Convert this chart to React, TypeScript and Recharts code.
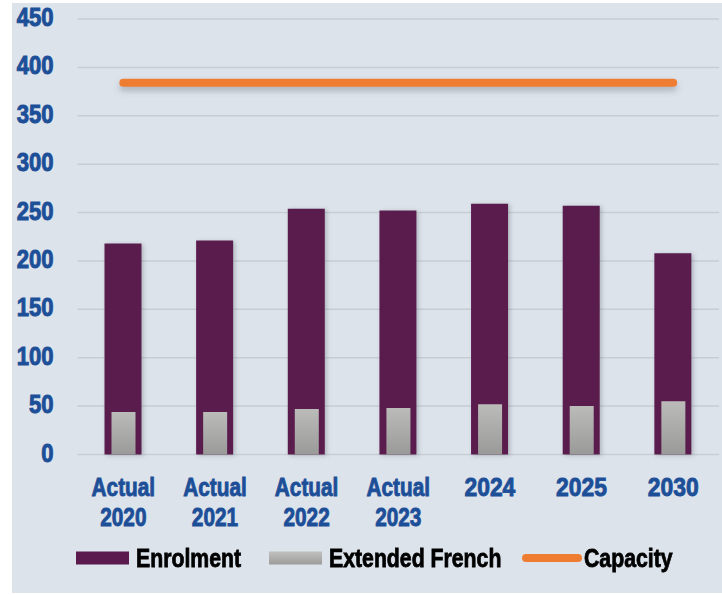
import React from "react";
import { ComposedChart, Bar, Line, XAxis, YAxis, CartesianGrid } from "recharts";

const categories = ["Actual\n2020", "Actual\n2021", "Actual\n2022", "Actual\n2023", "2024", "2025", "2030"];
const enrolment = [218, 221, 254, 252, 259, 257, 208];
const extendedFrench = [44, 44, 47, 48, 52, 50, 55];
const capacity = [384, 384, 384, 384, 384, 384, 384];
const yTicks = [0, 50, 100, 150, 200, 250, 300, 350, 400, 450];

const data = categories.map((label, i) => ({
  label,
  enrolment: enrolment[i],
  french: extendedFrench[i],
  capacity: capacity[i],
}));

const FONT = "'Liberation Sans', Arial, sans-serif";
const BLUE = "#1d4f98";
const PURPLE = "#5a1a4e";
const ORANGE = "#ee7d31";

const XTick = (props: any) => {
  const { x, y, payload } = props;
  const lines = String(payload.value).split("\n");
  const sx = lines.length > 1 ? 0.8 : 0.88;
  return (
    <g transform={`translate(${x},${y}) scale(${sx},1)`}>
      {lines.map((l, i) => (
        <text key={i} x={0} y={42 + i * 30} textAnchor="middle" fill={BLUE} stroke={BLUE} strokeWidth={0.9} fontFamily={FONT} fontWeight="bold" fontSize={26}>
          {l}
        </text>
      ))}
    </g>
  );
};

const YTick = (props: any) => {
  const { x, y, payload } = props;
  return (
    <g transform={`translate(${x},${y + 7}) scale(0.92,1.05)`}>
      <text x={0} y={0} textAnchor="end" fill={BLUE} stroke={BLUE} strokeWidth={0.9} fontFamily={FONT} fontWeight="bold" fontSize={24}>
        {payload.value}
      </text>
    </g>
  );
};

const legendItems = [
  { name: "Enrolment", type: "rect", left: 76 },
  { name: "Extended French", type: "grad", left: 269 },
  { name: "Capacity", type: "line", left: 522 },
];

export default function App() {
  return (
    <div style={{ position: "absolute", left: 0, top: 0, width: 722, height: 595, background: "#fff", overflow: "hidden" }}>
      <div style={{ position: "absolute", left: 12, top: 3, width: 710, height: 590, background: "#dce3ea" }} />
      <div style={{ position: "absolute", left: 0, top: 0 }}>
        <ComposedChart width={722} height={595} data={data} margin={{ top: 19, right: 3, left: 17.5, bottom: 80.5 }} barCategoryGap="30%">
          <defs>
            <linearGradient id="grayGrad" x1="0" y1="0" x2="0" y2="1">
              <stop offset="0%" stopColor="#bbbbb9" />
              <stop offset="100%" stopColor="#9a9a98" />
            </linearGradient>
            <filter id="lineShadow" filterUnits="userSpaceOnUse" x="0" y="0" width="722" height="595">
              <feDropShadow dx="0" dy="4" stdDeviation="3" floodColor="#556" floodOpacity="0.35" />
            </filter>
            <filter id="barShadow" x="-30%" y="-5%" width="160%" height="110%">
              <feDropShadow dx="2" dy="1" stdDeviation="2" floodColor="#445" floodOpacity="0.3" />
            </filter>
          </defs>
          <CartesianGrid vertical={false} stroke="#c6cdd5" strokeWidth={1.5} xAxisId="a" />
          <XAxis xAxisId="a" dataKey="label" axisLine={false} tickLine={false} tickSize={0} tickMargin={0} height={60} interval={0} tick={<XTick />} />
          <XAxis xAxisId="b" dataKey="label" hide />
          <YAxis domain={[0, 450]} ticks={yTicks} axisLine={false} tickLine={false} tickSize={0} tickMargin={24} width={60} interval={0} tick={<YTick />} />
          <Bar xAxisId="a" dataKey="enrolment" fill={PURPLE} barSize={37} isAnimationActive={false} filter="url(#barShadow)" />
          <Bar xAxisId="b" dataKey="french" fill="url(#grayGrad)" barSize={24} isAnimationActive={false} />
          <Line xAxisId="a" dataKey="capacity" stroke={ORANGE} strokeWidth={8} strokeLinecap="round" dot={false} activeDot={false} isAnimationActive={false} filter="url(#lineShadow)" />
        </ComposedChart>
      </div>
      {legendItems.map((it) => (
        <div key={it.name} style={{ position: "absolute", left: it.left, top: 543, height: 30, display: "flex", alignItems: "center", fontFamily: FONT, fontWeight: "bold", fontSize: 25, color: "#000", whiteSpace: "nowrap" }}>
          <svg width={60} height={14} style={{ marginRight: 6 }}>
            {it.type === "rect" && <rect x={0} y={0.5} width={53} height={13} fill={PURPLE} />}
            {it.type === "grad" && (
              <>
                <defs>
                  <linearGradient id="lgGray" x1="0" y1="0" x2="0" y2="1">
                    <stop offset="0%" stopColor="#c0c0be" />
                    <stop offset="100%" stopColor="#9c9c9a" />
                  </linearGradient>
                </defs>
                <rect x={0} y={0.5} width={53} height={13} fill="url(#lgGray)" />
              </>
            )}
            {it.type === "line" && <line x1={4} y1={7} x2={56} y2={7} stroke={ORANGE} strokeWidth={8} strokeLinecap="round" />}
          </svg>
          <span style={{ marginLeft: it.type === "line" ? -4 : -6, display: "inline-block", transform: "scaleX(0.85)", transformOrigin: "left center", WebkitTextStroke: "0.8px #000" }}>{it.name}</span>
        </div>
      ))}
    </div>
  );
}
